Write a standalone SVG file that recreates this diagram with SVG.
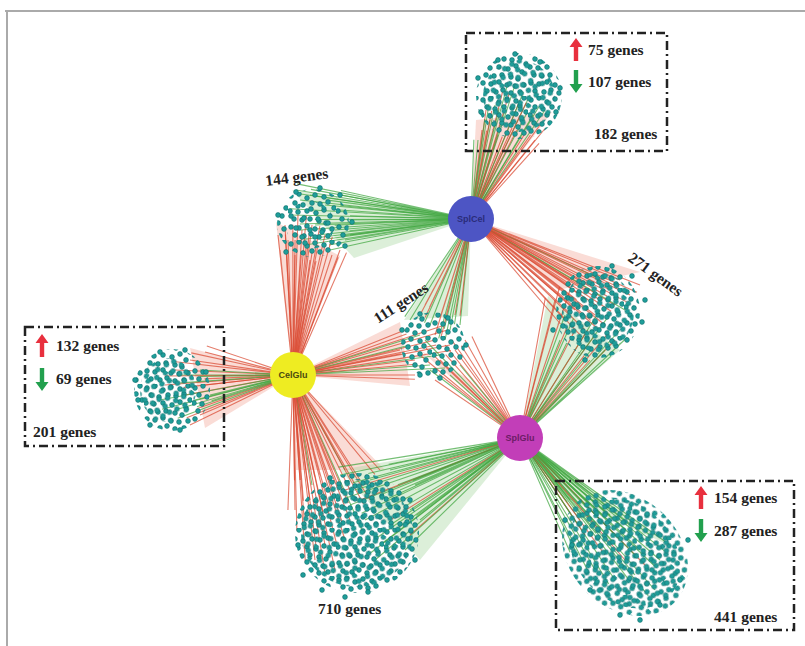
<svg xmlns="http://www.w3.org/2000/svg" xmlns:xlink="http://www.w3.org/1999/xlink" width="805" height="646" viewBox="0 0 805 646">
<defs>
<style>
.lbl{font-family:"Liberation Serif","Times New Roman",serif;font-weight:bold;font-size:15.5px;fill:#222}
.hub{font-family:"Liberation Sans",Arial,sans-serif;font-weight:bold;font-size:9px;text-anchor:middle}
.box{fill:none;stroke:#222;stroke-width:2.5;stroke-dasharray:9,4,2,4}
.r{fill:none;stroke:#d9442c;stroke-width:1.1;stroke-opacity:.7}
.g{fill:none;stroke:#3aa43a;stroke-width:1.1;stroke-opacity:.7}
.hr{fill:#f2a898;fill-opacity:.4}
.hg{fill:#a8d8a0;fill-opacity:.4}
.dt{fill:#1f9e9a;stroke:#0e6c6a;stroke-width:.6}
</style>
<circle id="d" r="2.4" class="dt"/>
<pattern id="dense" width="48" height="48" patternUnits="userSpaceOnUse">
<use href="#d" x="3" y="4"/><use href="#d" x="11" y="2"/><use href="#d" x="19" y="6"/><use href="#d" x="27" y="3"/><use href="#d" x="36" y="5"/><use href="#d" x="44" y="2"/>
<use href="#d" x="7" y="11"/><use href="#d" x="15" y="13"/><use href="#d" x="24" y="11"/><use href="#d" x="32" y="12"/><use href="#d" x="40" y="10"/><use href="#d" x="46" y="16"/>
<use href="#d" x="2" y="19"/><use href="#d" x="10" y="20"/><use href="#d" x="19" y="19"/><use href="#d" x="28" y="21"/><use href="#d" x="36" y="18"/><use href="#d" x="42" y="24"/>
<use href="#d" x="6" y="27"/><use href="#d" x="14" y="28"/><use href="#d" x="22" y="27"/><use href="#d" x="31" y="29"/><use href="#d" x="38" y="31"/>
<use href="#d" x="3" y="35"/><use href="#d" x="11" y="36"/><use href="#d" x="19" y="34"/><use href="#d" x="27" y="37"/><use href="#d" x="35" y="38"/><use href="#d" x="44" y="37"/>
<use href="#d" x="7" y="43"/><use href="#d" x="16" y="44"/><use href="#d" x="23" y="42"/><use href="#d" x="31" y="45"/><use href="#d" x="40" y="44"/>
</pattern>
<pattern id="dense2" xlink:href="#dense" patternTransform="translate(5,9) rotate(37)"/>
<pattern id="sparse" width="48" height="48" patternUnits="userSpaceOnUse">
<use href="#d" x="4" y="5"/><use href="#d" x="17" y="3"/><use href="#d" x="29" y="8"/><use href="#d" x="41" y="4"/>
<use href="#d" x="10" y="14"/><use href="#d" x="23" y="17"/><use href="#d" x="36" y="15"/><use href="#d" x="45" y="21"/>
<use href="#d" x="3" y="24"/><use href="#d" x="16" y="26"/><use href="#d" x="30" y="27"/><use href="#d" x="40" y="31"/>
<use href="#d" x="8" y="36"/><use href="#d" x="22" y="38"/><use href="#d" x="34" y="40"/><use href="#d" x="45" y="42"/>
<use href="#d" x="14" y="45"/><use href="#d" x="27" y="45"/>
</pattern>
<path id="up" d="M0,-12 L6.5,-3 L2.2,-3 L2.2,11 L-2.2,11 L-2.2,-3 L-6.5,-3 Z"/>
</defs>
<rect width="805" height="646" fill="#fff"/>
<path d="M5,11 H805 M7,11 V646" fill="none" stroke="#aaa" stroke-width="2"/>

<g id="connectors">
<polygon class="hr" points="471,219 476,120 552,112"/>
<polygon class="hg" points="471,219 292,190 354,258"/>
<polygon class="hr" points="293,375 276,222 340,256"/>
<polygon class="hr" points="293,375 190,348 205,428"/>
<polygon class="hr" points="293,375 400,322 410,386"/>
<polygon class="hg" points="471,219 404,320 468,316"/>
<polygon class="hr" points="520,438 420,350 470,380"/>
<polygon class="hr" points="471,219 558,290 640,272"/>
<polygon class="hg" points="520,438 548,296 620,350"/>
<polygon class="hr" points="293,375 296,470 385,470"/>
<polygon class="hg" points="520,438 340,470 420,560"/>
<polygon class="hg" points="520,438 566,498 675,548"/>
<path id="a1" class="r" d="M471,219L482,130M471,219L498,135M471,219L512,128M471,219L526,132M471,219L540,125M471,219L503,90M471,219L486,110M471,219L520,100M471,219L535,140"/>
<path id="a2" class="g" d="M471,219L490,120M471,219L505,110M471,219L533,115M471,219L495,105M471,219L515,85M471,219L530,95M471,219L545,110M471,219L478,140"/>
<use href="#a1" transform="rotate(3 471 219)"/><use href="#a2" transform="rotate(-3 471 219)"/>
<path id="b1" class="g" d="M471,219L300,200M471,219L310,195M471,219L325,205M471,219L340,210M471,219L350,220M471,219L335,230M471,219L320,240M471,219L305,245M471,219L345,240M471,219L290,215M471,219L315,225M471,219L330,250M471,219L300,230M471,219L340,195M471,219L350,235M471,219L296,190"/>
<use href="#b1" transform="rotate(2 471 219)"/>
<path id="c1" class="r" d="M293,375L280,250M293,375L288,240M293,375L295,255M293,375L302,230M293,375L310,260M293,375L318,245M293,375L325,235M293,375L332,255M293,375L285,225M293,375L298,215M293,375L312,225M293,375L340,250M293,375L278,235M293,375L306,248"/>
<use href="#c1" transform="rotate(3 293 375)"/>
<path id="d1" class="r" d="M293,375L190,360M293,375L205,385M293,375L200,415M293,375L185,395M293,375L165,385M293,375L190,425M293,375L205,352M293,375L175,370"/>
<path id="d2" class="g" d="M293,375L200,370M293,375L195,400M293,375L180,375M293,375L175,410M293,375L210,395M293,375L160,400"/>
<use href="#d1" transform="rotate(4 293 375)"/><use href="#d2" transform="rotate(-4 293 375)"/>
<path id="e1" class="r" d="M293,375L405,330M293,375L415,360M293,375L425,350M293,375L435,340M293,375L445,325M293,375L450,345M293,375L400,350M293,375L415,375"/>
<path id="e2" class="g" d="M293,375L410,345M293,375L420,335M293,375L430,365M293,375L440,355M293,375L445,368"/>
<use href="#e1" transform="rotate(2 293 375)"/>
<path id="f1" class="g" d="M471,219L410,320M471,219L430,325M471,219L450,330M471,219L445,340M471,219L460,325"/>
<path id="f2" class="r" d="M471,219L420,315M471,219L440,318M471,219L455,315M471,219L435,335M471,219L425,305"/>
<use href="#f1" transform="rotate(3 471 219)"/><use href="#f2" transform="rotate(-3 471 219)"/>
<path id="g1" class="r" d="M520,438L420,355M520,438L440,360M520,438L455,350M520,438L445,345M520,438L465,340M520,438L435,380"/>
<path id="g2" class="g" d="M520,438L430,370M520,438L450,375M520,438L460,365M520,438L425,340"/>
<use href="#g1" transform="rotate(4 520 438)"/>
<path id="h1" class="r" d="M471,219L560,290M471,219L570,280M471,219L580,295M471,219L590,285M471,219L600,300M471,219L610,290M471,219L620,280M471,219L575,310M471,219L595,315M471,219L615,305M471,219L630,295M471,219L565,320M471,219L585,330M471,219L605,325M471,219L640,285"/>
<path class="g" d="M471,219L598,278M471,219L625,310"/>
<use href="#h1" transform="rotate(2.5 471 219)"/>
<path id="i1" class="r" d="M520,438L555,300M520,438L575,330M520,438L595,335M520,438L615,340M520,438L590,360M520,438L570,290"/>
<path id="i2" class="g" d="M520,438L565,315M520,438L585,345M520,438L605,350M520,438L560,340M520,438L620,330M520,438L600,310"/>
<use href="#i1" transform="rotate(-4 520 438)"/><use href="#i2" transform="rotate(4 520 438)"/>
<path id="j1" class="r" d="M293,375L300,480M293,375L310,500M293,375L320,475M293,375L330,510M293,375L340,490M293,375L350,520M293,375L360,480M293,375L370,500M293,375L305,530M293,375L325,545M293,375L345,540M293,375L380,470M293,375L295,510M293,375L315,560M293,375L335,570M293,375L355,500"/>
<path class="g" d="M293,375L312,485M293,375L345,470M293,375L362,530"/>
<use href="#j1" transform="rotate(3 293 375)"/>
<path id="k1" class="g" d="M520,438L340,475M520,438L355,490M520,438L370,480M520,438L385,500M520,438L400,490M520,438L410,510M520,438L395,530M520,438L380,545M520,438L365,520M520,438L420,520M520,438L405,550M520,438L350,505M520,438L390,470M520,438L415,485M520,438L375,560"/>
<path class="r" d="M520,438L360,500M520,438L390,520M520,438L410,535M520,438L345,490"/>
<use href="#k1" transform="rotate(2.5 520 438)"/>
<path id="l1" class="g" d="M520,438L570,500M520,438L580,520M520,438L590,505M520,438L600,530M520,438L610,515M520,438L620,540M520,438L630,525M520,438L640,550M520,438L650,535M520,438L660,560M520,438L575,550M520,438L595,570M520,438L615,580M520,438L635,575M520,438L655,590M520,438L590,490M520,438L670,545"/>
<path class="r" d="M520,438L585,535M520,438L605,555M520,438L625,560M520,438L645,565"/>
<use href="#l1" transform="rotate(2.5 520 438)"/>
</g>

<g id="cluster-182">
<circle cx="519" cy="96" r="43" fill="url(#dense)"/>
<circle cx="519" cy="96" r="36" fill="url(#dense2)"/>
<use href="#d" x="478" y="78"/><use href="#d" x="560" y="88"/><use href="#d" x="515" y="54"/><use href="#d" x="498" y="60"/><use href="#d" x="540" y="62"/><use href="#d" x="556" y="112"/><use href="#d" x="481" y="112"/>
</g>
<g id="cluster-144">
<ellipse cx="313" cy="223" rx="36" ry="34" fill="url(#dense)"/>
<ellipse cx="310" cy="225" rx="24" ry="24" fill="url(#sparse)"/>
<use href="#d" x="296" y="192"/><use href="#d" x="320" y="188"/><use href="#d" x="340" y="195"/><use href="#d" x="278" y="215"/><use href="#d" x="352" y="222"/><use href="#d" x="286" y="252"/><use href="#d" x="345" y="246"/>
</g>
<g id="cluster-201">
<ellipse cx="172" cy="390" rx="38" ry="41" fill="url(#dense)"/>
<ellipse cx="168" cy="390" rx="28" ry="32" fill="url(#dense2)"/>
<use href="#d" x="135" y="380"/><use href="#d" x="138" y="400"/><use href="#d" x="160" y="352"/><use href="#d" x="185" y="350"/><use href="#d" x="150" y="425"/><use href="#d" x="180" y="430"/><use href="#d" x="206" y="372"/>
</g>
<g id="cluster-111">
<ellipse cx="433" cy="345" rx="32" ry="33" fill="url(#dense)"/>
<use href="#d" x="402" y="330"/><use href="#d" x="420" y="314"/><use href="#d" x="448" y="318"/><use href="#d" x="466" y="345"/><use href="#d" x="420" y="375"/><use href="#d" x="440" y="378"/>
</g>
<g id="cluster-271">
<ellipse cx="598" cy="312" rx="42" ry="46" fill="url(#dense)"/>
<ellipse cx="598" cy="312" rx="36" ry="40" fill="url(#dense2)"/>
<use href="#d" x="645" y="300"/><use href="#d" x="632" y="276"/><use href="#d" x="612" y="266"/><use href="#d" x="553" y="330"/><use href="#d" x="585" y="360"/><use href="#d" x="642" y="322"/>
</g>
<g id="cluster-710">
<ellipse cx="357" cy="533" rx="62" ry="60" fill="url(#dense)"/>
<ellipse cx="357" cy="533" rx="56" ry="54" fill="url(#dense2)"/>
<use href="#d" x="298" y="545"/><use href="#d" x="303" y="575"/><use href="#d" x="322" y="590"/><use href="#d" x="345" y="597"/><use href="#d" x="368" y="592"/><use href="#d" x="415" y="560"/><use href="#d" x="410" y="500"/><use href="#d" x="330" y="478"/>
</g>
<g id="cluster-441">
<ellipse cx="625" cy="553" rx="70" ry="55" transform="rotate(45 625 553)" fill="url(#dense)"/>
<ellipse cx="625" cy="553" rx="62" ry="48" transform="rotate(45 625 553)" fill="url(#dense2)"/>
<use href="#d" x="565" y="520"/><use href="#d" x="572" y="545"/><use href="#d" x="590" y="590"/><use href="#d" x="620" y="615"/><use href="#d" x="640" y="620"/><use href="#d" x="688" y="540"/><use href="#d" x="680" y="580"/><use href="#d" x="660" y="605"/>
</g>

<g id="hub-SplCel">
<circle cx="471" cy="219" r="23" fill="#4d55c4"/>
<text class="hub" x="471" y="222" fill="#2a2c7a">SplCel</text>
</g>
<g id="hub-CelGlu">
<circle cx="293" cy="375" r="23" fill="#eeec22"/>
<text class="hub" x="293" y="378" fill="#4a4a10">CelGlu</text>
</g>
<g id="hub-SplGlu">
<circle cx="520" cy="438" r="23" fill="#c23eb8"/>
<text class="hub" x="520" y="441" fill="#6c1c66">SplGlu</text>
</g>

<g id="box-top">
<rect class="box" x="466" y="33" width="201" height="118"/>
<use href="#up" x="576" y="50" fill="#e8303e"/>
<use href="#up" transform="translate(576,81) rotate(180)" fill="#22a04e"/>
<text class="lbl" x="588" y="55">75 genes</text>
<text class="lbl" x="588" y="87">107 genes</text>
<text class="lbl" x="594" y="139">182 genes</text>
</g>
<g id="box-left">
<rect class="box" x="25" y="327" width="199" height="119"/>
<use href="#up" x="42" y="346" fill="#e8303e"/>
<use href="#up" transform="translate(42,379) rotate(180)" fill="#22a04e"/>
<text class="lbl" x="56" y="351">132 genes</text>
<text class="lbl" x="56" y="384">69 genes</text>
<text class="lbl" x="33" y="437">201 genes</text>
</g>
<g id="box-bottom">
<rect class="box" x="556" y="481" width="238" height="149"/>
<use href="#up" x="701" y="498" fill="#e8303e"/>
<use href="#up" transform="translate(701,530) rotate(180)" fill="#22a04e"/>
<text class="lbl" x="714" y="503">154 genes</text>
<text class="lbl" x="714" y="536">287 genes</text>
<text class="lbl" x="714" y="622">441 genes</text>
</g>
<g id="labels">
<text class="lbl" x="266" y="186" transform="rotate(-7 266 186)">144 genes</text>
<text class="lbl" x="378" y="324" transform="rotate(-33 378 324)">111 genes</text>
<text class="lbl" x="627" y="260" transform="rotate(36 627 260)">271 genes</text>
<text class="lbl" x="318" y="614">710 genes</text>
</g>
</svg>
